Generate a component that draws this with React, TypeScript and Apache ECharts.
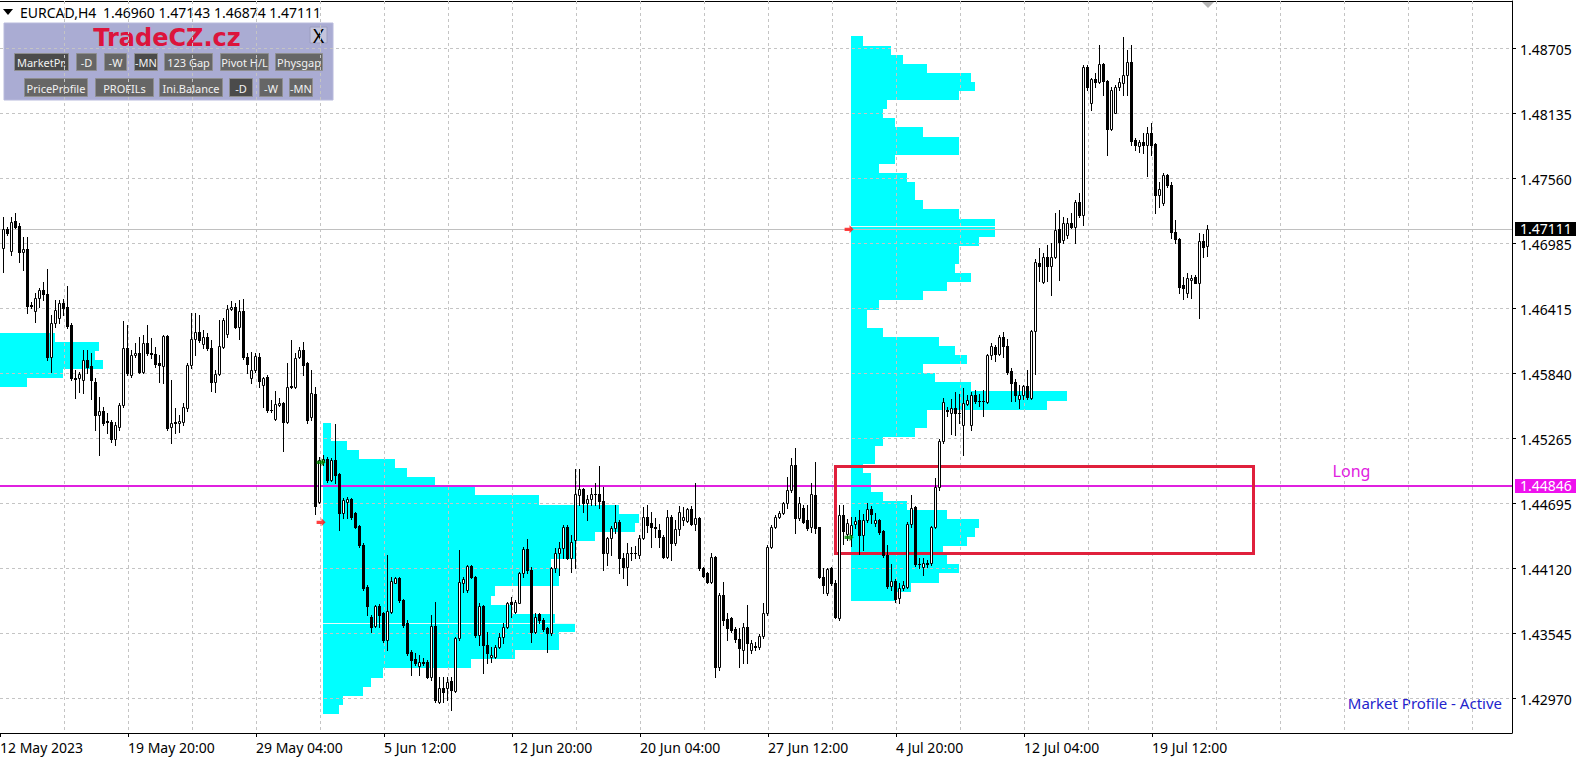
import React, { useEffect, useRef } from "react";
import * as echarts from "echarts";

// ---------- axis texts ----------
const xLabelTexts = ["12 May 2023", "19 May 20:00", "29 May 04:00", "5 Jun 12:00", "12 Jun 20:00", "20 Jun 04:00", "27 Jun 12:00", "4 Jul 20:00", "12 Jul 04:00", "19 Jul 12:00"];
const barsPerLabel = 32;
const barsPerGrid = 16;
const slotCount = 379;

const priceTicks = [1.48705, 1.48135, 1.4756, 1.46985, 1.46415, 1.4584, 1.45265, 1.44695, 1.4412, 1.43545, 1.4297];
const priceTickLabels = ["1.48705", "1.48135", "1.47560", "1.46985", "1.46415", "1.45840", "1.45265", "1.44695", "1.44120", "1.43545", "1.42970"];

const lastPrice = 1.47111;
const lastPriceLabel = "1.47111";
const longPrice = 1.44846;
const longPriceLabel = "1.44846";
const longText = "Long";
const longTextBar = 337;

// ---------- H4 candles (EURCAD) ----------
const opens = [
  1.4694, 1.47107, 1.46919, 1.47181, 1.47137, 1.46904, 1.46934, 1.4644, 1.4639, 1.46498,
  1.46572, 1.46534, 1.45984, 1.46278, 1.46322, 1.46454, 1.46419, 1.46263, 1.45798, 1.45792,
  1.45778, 1.45954, 1.45901, 1.45763, 1.45469, 1.45504, 1.45413, 1.4541, 1.45254, 1.45366,
  1.45557, 1.46063, 1.45822, 1.45998, 1.46013, 1.45851, 1.46101, 1.46013, 1.46007, 1.45925,
  1.45904, 1.46166, 1.45366, 1.45395, 1.45395, 1.4541, 1.45528, 1.4591, 1.46137, 1.46201,
  1.46093, 1.4616, 1.46057, 1.45763, 1.45831, 1.46072, 1.46181, 1.46401, 1.46419, 1.46249,
  1.46387, 1.45978, 1.45796, 1.45866, 1.45984, 1.45734, 1.45808, 1.45514, 1.45432, 1.45558,
  1.45579, 1.45411, 1.45714, 1.4572, 1.45984, 1.46043, 1.45926, 1.45455, 1.45655, 1.44704,
  1.45058, 1.45078, 1.44896, 1.45072, 1.44949, 1.44601, 1.44704, 1.44725, 1.44607, 1.4449,
  1.44322, 1.43954, 1.4369, 1.43608, 1.43784, 1.43719, 1.43484, 1.43734, 1.4399, 1.44028,
  1.43837, 1.43631, 1.43381, 1.43313, 1.43257, 1.43287, 1.43287, 1.43155, 1.43608, 1.4294,
  1.43057, 1.43057, 1.43122, 1.43037, 1.43499, 1.4399, 1.43925, 1.44137, 1.44043, 1.43528,
  1.43784, 1.4344, 1.43331, 1.43337, 1.43426, 1.43514, 1.43602, 1.43823, 1.43734, 1.43814,
  1.44073, 1.44287, 1.44102, 1.43558, 1.43714, 1.43661, 1.43588, 1.43543, 1.44117, 1.44249,
  1.44293, 1.44478, 1.44211, 1.44367, 1.44764, 1.44814, 1.4469, 1.44725, 1.44773, 1.44773,
  1.44714, 1.44249, 1.44381, 1.4447, 1.44526, 1.44205, 1.44131, 1.44255, 1.4425, 1.44234,
  1.44381, 1.44567, 1.44514, 1.44478, 1.44455, 1.44396, 1.4422, 1.44573, 1.44337, 1.44461,
  1.44543, 1.44537, 1.44637, 1.44508, 1.44558, 1.44117, 1.44079, 1.43999, 1.44214, 1.43249,
  1.43881, 1.43667, 1.43676, 1.43578, 1.4349, 1.43396, 1.43602, 1.43396, 1.43432, 1.43427,
  1.4352, 1.43719, 1.44307, 1.44478, 1.44566, 1.44607, 1.4469, 1.44807, 1.45028, 1.44557,
  1.44646, 1.44543, 1.44478, 1.44763, 1.44478, 1.44043, 1.43896, 1.44116, 1.43984, 1.43675,
  1.44587, 1.44423, 1.44407, 1.44509, 1.44541, 1.44407, 1.44541, 1.44638, 1.44519, 1.44541,
  1.44445, 1.4423, 1.43958, 1.44006, 1.43852, 1.4394, 1.43955, 1.44507, 1.44654, 1.44159,
  1.44131, 1.44157, 1.4416, 1.44484, 1.4483, 1.45241, 1.45504, 1.45491, 1.4553, 1.45491,
  1.45385, 1.45568, 1.45385, 1.45642, 1.45594, 1.4559, 1.45587, 1.45995, 1.46069, 1.46011,
  1.46155, 1.46075, 1.45857, 1.45761, 1.4561, 1.45642, 1.45722, 1.45619, 1.46209, 1.46813,
  1.46646, 1.4686, 1.46787, 1.46866, 1.47107, 1.47013, 1.47057, 1.4716, 1.47131, 1.47351,
  1.47234, 1.48542, 1.48219, 1.48431, 1.4841, 1.48566, 1.48419, 1.4799, 1.48137, 1.4836,
  1.48401, 1.48469, 1.48587, 1.47895, 1.47842, 1.47875, 1.47851, 1.47954, 1.4786, 1.4741,
  1.47343, 1.47587, 1.47498, 1.47087, 1.47019, 1.46616, 1.46549, 1.4666, 1.46684, 1.46637,
  1.47004, 1.4696,
];
const highs = [
  1.47219, 1.47131, 1.47219, 1.47248, 1.4716, 1.47042, 1.47042, 1.46469, 1.46543, 1.46587,
  1.46645, 1.46757, 1.46351, 1.46484, 1.46484, 1.4649, 1.46607, 1.46278, 1.45866, 1.45851,
  1.46043, 1.46043, 1.46013, 1.45792, 1.45631, 1.45543, 1.45484, 1.45425, 1.4541, 1.45572,
  1.46298, 1.46263, 1.46043, 1.46107, 1.4616, 1.46175, 1.46263, 1.46145, 1.46072, 1.45998,
  1.46175, 1.46175, 1.45778, 1.45528, 1.45469, 1.45578, 1.45931, 1.46366, 1.46372, 1.46348,
  1.46219, 1.4619, 1.46131, 1.45866, 1.46307, 1.46322, 1.4644, 1.46478, 1.46454, 1.46484,
  1.4649, 1.46013, 1.46029, 1.46015, 1.46014, 1.45808, 1.45823, 1.45602, 1.45685, 1.45617,
  1.45587, 1.45926, 1.46132, 1.46014, 1.46073, 1.46117, 1.4594, 1.45867, 1.4572, 1.45101,
  1.45115, 1.45101, 1.45087, 1.45387, 1.44954, 1.44734, 1.44748, 1.44734, 1.44616, 1.44499,
  1.44337, 1.43969, 1.43705, 1.43793, 1.43801, 1.43734, 1.44234, 1.44043, 1.44043, 1.44043,
  1.43843, 1.4366, 1.43396, 1.43366, 1.43352, 1.43322, 1.43307, 1.43705, 1.43822, 1.4316,
  1.4316, 1.4316, 1.4316, 1.43513, 1.44278, 1.44043, 1.44146, 1.44146, 1.44049, 1.43808,
  1.43793, 1.43557, 1.43426, 1.4344, 1.43543, 1.43632, 1.43823, 1.43867, 1.43837, 1.44087,
  1.44308, 1.44373, 1.44131, 1.4372, 1.43726, 1.43676, 1.43602, 1.44131, 1.44293, 1.44352,
  1.44499, 1.44499, 1.44411, 1.4499, 1.4499, 1.44823, 1.44764, 1.44828, 1.44873, 1.4502,
  1.44837, 1.44396, 1.4449, 1.44676, 1.44543, 1.44249, 1.44337, 1.44308, 1.44314, 1.44411,
  1.44661, 1.44676, 1.44617, 1.44558, 1.44508, 1.44411, 1.44631, 1.44587, 1.44543, 1.44667,
  1.44661, 1.44646, 1.44667, 1.44867, 1.44573, 1.44131, 1.44087, 1.44249, 1.44226, 1.43896,
  1.43999, 1.4372, 1.4369, 1.43602, 1.43588, 1.43632, 1.43793, 1.43484, 1.4347, 1.4354,
  1.43813, 1.44322, 1.44499, 1.44587, 1.44625, 1.44704, 1.44925, 1.45087, 1.45175, 1.44749,
  1.44675, 1.44675, 1.44866, 1.45057, 1.44484, 1.44116, 1.44116, 1.44131, 1.44013, 1.44675,
  1.44679, 1.4455, 1.44567, 1.44574, 1.44631, 1.44599, 1.44696, 1.44663, 1.44606, 1.44551,
  1.44455, 1.44327, 1.44157, 1.44022, 1.43984, 1.44007, 1.44528, 1.44763, 1.44666, 1.44204,
  1.44204, 1.4419, 1.4449, 1.4491, 1.45257, 1.45619, 1.45536, 1.4561, 1.45674, 1.45658,
  1.45706, 1.45642, 1.45674, 1.4569, 1.45658, 1.4569, 1.46011, 1.46107, 1.46091, 1.46171,
  1.46203, 1.46139, 1.45882, 1.45786, 1.45738, 1.45738, 1.45866, 1.46219, 1.46845, 1.46941,
  1.46895, 1.46973, 1.46984, 1.47248, 1.47278, 1.47219, 1.47204, 1.47248, 1.47366, 1.47425,
  1.48557, 1.48557, 1.4844, 1.4849, 1.48734, 1.48572, 1.48425, 1.48366, 1.48381, 1.4844,
  1.48807, 1.4869, 1.48734, 1.4791, 1.47895, 1.47954, 1.48013, 1.48042, 1.47866, 1.47528,
  1.47601, 1.47595, 1.47528, 1.47189, 1.47028, 1.4669, 1.46719, 1.46704, 1.46704, 1.47072,
  1.47066, 1.47143,
];
const lows = [
  1.46734, 1.47057, 1.46881, 1.47116, 1.46822, 1.46748, 1.46372, 1.4641, 1.46293, 1.46425,
  1.46484, 1.45954, 1.45851, 1.46249, 1.46278, 1.46351, 1.46234, 1.45778, 1.45616, 1.45675,
  1.4566, 1.45837, 1.45607, 1.45337, 1.45116, 1.45381, 1.45307, 1.45234, 1.45204, 1.45337,
  1.45543, 1.45822, 1.45807, 1.45984, 1.45837, 1.45837, 1.45998, 1.45969, 1.45895, 1.45763,
  1.45748, 1.45337, 1.45225, 1.45307, 1.45316, 1.45381, 1.45507, 1.45881, 1.45998, 1.46116,
  1.46057, 1.46043, 1.45684, 1.45675, 1.45822, 1.46065, 1.4616, 1.46395, 1.46234, 1.46137,
  1.4596, 1.45837, 1.45749, 1.45845, 1.4572, 1.45543, 1.45499, 1.45499, 1.45426, 1.45549,
  1.45155, 1.45396, 1.45705, 1.45705, 1.4597, 1.45823, 1.45396, 1.45426, 1.446, 1.4469,
  1.4503, 1.44881, 1.4489, 1.44866, 1.44454, 1.44557, 1.44557, 1.44549, 1.44469, 1.44307,
  1.43925, 1.43705, 1.43557, 1.43596, 1.43602, 1.43469, 1.43396, 1.43719, 1.43984, 1.43822,
  1.43602, 1.43352, 1.43175, 1.43263, 1.43175, 1.43263, 1.43146, 1.43131, 1.4294, 1.42925,
  1.4294, 1.42954, 1.42866, 1.43028, 1.43484, 1.4391, 1.4391, 1.44028, 1.43513, 1.4344,
  1.4319, 1.43278, 1.43293, 1.43323, 1.43411, 1.43455, 1.43588, 1.4369, 1.4372, 1.43808,
  1.44043, 1.44073, 1.4347, 1.43543, 1.43637, 1.43567, 1.43382, 1.43529, 1.44087, 1.44058,
  1.44205, 1.44196, 1.44087, 1.44117, 1.44676, 1.44617, 1.44543, 1.44676, 1.44676, 1.44646,
  1.44102, 1.44146, 1.44234, 1.44426, 1.44073, 1.44029, 1.4397, 1.4419, 1.44205, 1.44205,
  1.44373, 1.4444, 1.44308, 1.44396, 1.44308, 1.44205, 1.44205, 1.4419, 1.44323, 1.44411,
  1.44499, 1.44528, 1.44499, 1.44455, 1.44102, 1.44037, 1.43984, 1.43984, 1.43161, 1.4322,
  1.43617, 1.43484, 1.43558, 1.4347, 1.43249, 1.43279, 1.43279, 1.43367, 1.43396, 1.43405,
  1.435, 1.43705, 1.44293, 1.44469, 1.44557, 1.44596, 1.44646, 1.44793, 1.44425, 1.44543,
  1.44513, 1.44454, 1.4444, 1.44425, 1.44028, 1.43896, 1.43881, 1.43969, 1.43675, 1.4366,
  1.4433, 1.4437, 1.44311, 1.44471, 1.44246, 1.44279, 1.44529, 1.44519, 1.44487, 1.44423,
  1.44214, 1.43942, 1.43926, 1.43822, 1.43807, 1.43925, 1.4394, 1.44484, 1.44137, 1.44116,
  1.44057, 1.44131, 1.44146, 1.44469, 1.44808, 1.45225, 1.45459, 1.45305, 1.45289, 1.45401,
  1.45113, 1.45562, 1.45337, 1.45578, 1.45546, 1.45465, 1.45578, 1.45963, 1.45947, 1.45995,
  1.45979, 1.45834, 1.45594, 1.45594, 1.4553, 1.4561, 1.4561, 1.4561, 1.45834, 1.46652,
  1.46631, 1.46652, 1.46528, 1.46851, 1.4666, 1.46984, 1.47028, 1.47116, 1.46984, 1.47219,
  1.47145, 1.48337, 1.4816, 1.48366, 1.48395, 1.48293, 1.47763, 1.47984, 1.48131, 1.48337,
  1.48293, 1.48293, 1.47851, 1.47807, 1.47793, 1.47778, 1.47578, 1.47763, 1.47248, 1.47307,
  1.47322, 1.47484, 1.47028, 1.46984, 1.46543, 1.4649, 1.46513, 1.46498, 1.46631, 1.46322,
  1.46866, 1.46874,
];
const closes = [
  1.47107, 1.47078, 1.47175, 1.47131, 1.46904, 1.46934, 1.46431, 1.46431, 1.46498, 1.46572,
  1.46534, 1.45984, 1.46278, 1.46395, 1.46454, 1.4641, 1.46254, 1.45792, 1.45784, 1.45831,
  1.45954, 1.45895, 1.45778, 1.45469, 1.45504, 1.45401, 1.45404, 1.45254, 1.45381, 1.45557,
  1.46063, 1.45837, 1.45998, 1.46013, 1.45851, 1.46101, 1.46013, 1.46008, 1.45916, 1.4591,
  1.46166, 1.45351, 1.45395, 1.4541, 1.45416, 1.45537, 1.4591, 1.46137, 1.46201, 1.46131,
  1.4616, 1.46057, 1.45763, 1.45831, 1.46078, 1.46307, 1.46404, 1.46425, 1.46249, 1.46387,
  1.45978, 1.45919, 1.45866, 1.4599, 1.4577, 1.45793, 1.45514, 1.4551, 1.45564, 1.45579,
  1.45411, 1.45714, 1.45726, 1.4597, 1.46043, 1.45911, 1.45426, 1.45661, 1.4467, 1.45072,
  1.45079, 1.44896, 1.45072, 1.4494, 1.44601, 1.44719, 1.44725, 1.44572, 1.44484, 1.44322,
  1.4394, 1.43784, 1.43602, 1.43784, 1.43705, 1.43484, 1.4374, 1.44007, 1.44028, 1.43837,
  1.43616, 1.43366, 1.43307, 1.43284, 1.43287, 1.43281, 1.43155, 1.43608, 1.42954, 1.43057,
  1.43028, 1.43116, 1.43043, 1.43499, 1.43999, 1.44019, 1.44137, 1.44037, 1.43528, 1.43784,
  1.4344, 1.43372, 1.43352, 1.43426, 1.43514, 1.43602, 1.43808, 1.43802, 1.43823, 1.44073,
  1.44287, 1.44102, 1.43558, 1.4369, 1.43661, 1.43578, 1.43543, 1.44117, 1.44249, 1.44293,
  1.44484, 1.44211, 1.44352, 1.44773, 1.44814, 1.4469, 1.44725, 1.44773, 1.44769, 1.44714,
  1.44249, 1.44381, 1.4447, 1.44526, 1.44205, 1.44131, 1.44249, 1.4425, 1.44256, 1.44381,
  1.44567, 1.44499, 1.44478, 1.44475, 1.4439, 1.4422, 1.44567, 1.44337, 1.44461, 1.44617,
  1.44573, 1.44637, 1.44508, 1.44558, 1.44117, 1.44049, 1.43999, 1.44214, 1.43249, 1.43881,
  1.43661, 1.43588, 1.43573, 1.4349, 1.43411, 1.43602, 1.43461, 1.43455, 1.43427, 1.4352,
  1.43725, 1.44307, 1.44478, 1.44572, 1.44607, 1.4469, 1.44807, 1.45028, 1.44557, 1.4469,
  1.44528, 1.44469, 1.44772, 1.44469, 1.44037, 1.43969, 1.44107, 1.43984, 1.4369, 1.44587,
  1.4445, 1.44519, 1.44503, 1.44535, 1.44407, 1.44541, 1.44638, 1.44599, 1.44541, 1.44439,
  1.4423, 1.43958, 1.44006, 1.43846, 1.4394, 1.43969, 1.44507, 1.44646, 1.44154, 1.44154,
  1.4416, 1.4416, 1.44484, 1.44837, 1.45241, 1.45587, 1.4551, 1.4553, 1.45491, 1.45488,
  1.45578, 1.456, 1.45642, 1.45594, 1.4559, 1.45594, 1.45995, 1.46075, 1.46004, 1.46155,
  1.46075, 1.4585, 1.45754, 1.45642, 1.45642, 1.45722, 1.45626, 1.46209, 1.46819, 1.46787,
  1.4686, 1.46787, 1.4686, 1.47101, 1.46998, 1.4716, 1.4716, 1.47131, 1.47351, 1.47234,
  1.48542, 1.4836, 1.48431, 1.4841, 1.48566, 1.48419, 1.4799, 1.48337, 1.4836, 1.4841,
  1.48469, 1.48587, 1.4789, 1.47851, 1.47875, 1.47851, 1.47954, 1.47851, 1.4741, 1.4746,
  1.47587, 1.47498, 1.47087, 1.47019, 1.46601, 1.46587, 1.46675, 1.46675, 1.46637, 1.47004,
  1.46954, 1.47111,
];

// ---------- market profiles (bar where each starts, top price, TPO counts per price bucket) ----------
const profileStep = 0.000803;
const profile1Start = -1;
const profile1Top = 1.46196;
const profile1Widths = [14, 25, 24, 26, 16, 7];
const profile2Start = 80;
const profile2Top = 1.45402;
const profile2Widths = [2, 2, 6, 9, 18, 21, 28, 38, 54, 74, 79, 78, 68, 63, 63, 57, 59, 59, 43, 42, 47, 58, 63, 59, 59, 48, 37, 15, 12, 10, 5, 4];
const profile3Start = 212;
const profile3Top = 1.48809;
const profile3Widths = [3, 10, 13, 19, 30, 31, 27, 9, 8, 11, 18, 27, 27, 11, 7, 14, 16, 16, 18, 27, 36, 36, 32, 27, 27, 26, 30, 24, 18, 7, 4, 4, 8, 22, 26, 29, 18, 21, 30, 54, 49, 19, 19, 16, 8, 6, 6, 3, 5, 5, 8, 14, 24, 32, 31, 29, 23, 24, 27, 22, 15, 11];
const pocStarts = [80, 212];
const pocPrices = [1.43632, 1.47133];
const pocWidths = [63, 36];

// ---------- drawn objects ----------
const boxLeftBar = 207.8;
const boxRightBar = 312.4;
const boxTopPrice = 1.45022;
const boxBottomPrice = 1.44252;
const redArrowBars = [79.4, 211.4];
const redArrowPrices = [1.44523, 1.47108];
const greenArrowBars = [79.4, 211.4];
const greenArrowPrices = [1.45052, 1.4439];

const headerSymbol = "EURCAD,H4";
const headerPrices = "1.46960 1.47143 1.46874 1.47111";
const statusText = "Market Profile - Active";

const rowButtons1 = ["MarketPr.", "-D", "-W", "-MN", "123 Gap", "Pivot H/L", "Physgap"];
const rowButtons2 = ["PriceProfile", "PROFILs", "Ini.Balance", "-D", "-W", "-MN"];

const FONT = '"Noto Sans", "DejaVu Sans", sans-serif';

function buildOption(): any {
  const categories = Array.from({ length: slotCount }, (_, k) =>
    k % barsPerLabel === 0 && k / barsPerLabel < xLabelTexts.length ? xLabelTexts[k / barsPerLabel] : ""
  );
  const candleData = opens.map((o, i) => [i, o, highs[i], lows[i], closes[i]]);
  const profileRows: number[][] = [];
  const profs: [number, number, number[]][] = [
    [profile1Start, profile1Top, profile1Widths],
    [profile2Start, profile2Top, profile2Widths],
    [profile3Start, profile3Top, profile3Widths],
  ];
  profs.forEach(([s, top, ws]) =>
    ws.forEach((w, k) => profileRows.push([s, top - k * profileStep, top - (k + 1) * profileStep, w]))
  );
  const pocData = pocStarts.map((s, i) => [s, pocPrices[i], pocWidths[i]]);

  // panel graphics
  const g: any[] = [];
  g.push({ type: "polygon", shape: { points: [[3, 9], [13, 9], [8, 15]] }, style: { fill: "#000" } });
  g.push({ type: "text", x: 20, y: 12, style: { text: headerSymbol, fill: "#000", font: `14px ${FONT}`, verticalAlign: "middle" } });
  g.push({ type: "text", x: 103, y: 12, style: { text: headerPrices, fill: "#000", font: `14px ${FONT}`, verticalAlign: "middle" } });
  g.push({ type: "rect", shape: { x: 4, y: 23, width: 329, height: 77 }, style: { fill: "#aaacd3", stroke: "#b8badc", lineWidth: 1 } });
  g.push({ type: "text", x: 167, y: 38, style: { text: "TradeCZ.cz", fill: "#dc143c", font: `bold 24px "DejaVu Sans", sans-serif`, align: "center", verticalAlign: "middle" } });
  g.push({ type: "rect", shape: { x: 310, y: 27, width: 17, height: 16 }, style: { fill: "#c3c4dc", stroke: "#9c9ec0", lineWidth: 1 } });
  g.push({ type: "text", x: 318.5, y: 35.5, style: { text: "X", fill: "#000", font: `19px ${FONT}`, align: "center", verticalAlign: "middle" } });
  const b1x = [14, 76, 104, 134, 164, 220, 275];
  const b1w = [55, 21, 23, 24, 49, 49, 48];
  const b1dark = [true, false, false, true, false, false, false];
  const b2x = [24, 95, 159, 229, 259, 289];
  const b2w = [64, 59, 64, 24, 24, 24];
  const b2dark = [false, false, false, true, false, false];
  const addBtn = (t: string, x: number, y: number, w: number, h: number, dark: boolean) => {
    g.push({ type: "rect", shape: { x: x + 0.5, y: y + 0.5, width: w - 1, height: h - 1 }, style: { fill: dark ? "#4b4b4b" : "#666666", stroke: "#8e8e8e", lineWidth: 1 } });
    g.push({ type: "text", x: x + w / 2, y: y + h / 2 + 0.5, style: { text: t, fill: "#f2f2f2", font: `11px ${FONT}`, align: "center", verticalAlign: "middle" } });
  };
  rowButtons1.forEach((t, i) => addBtn(t, b1x[i], 53, b1w[i], 18, b1dark[i]));
  rowButtons2.forEach((t, i) => addBtn(t, b2x[i], 78, b2w[i], 19, b2dark[i]));
  g.push({ type: "text", x: 1502, y: 703, style: { text: statusText, fill: "#2323cc", font: `15px ${FONT}`, align: "right", verticalAlign: "middle" } });
  g.push({ type: "polygon", shape: { points: [[1201, 1], [1215, 1], [1208, 8]] }, style: { fill: "#b4b4b4" } });

  return {
    animation: false,
    backgroundColor: "#ffffff",
    grid: { left: 0, top: 1, width: 1512, height: 732, containLabel: false, outerBoundsMode: "none" },
    xAxis: [
      {
        type: "category",
        data: categories,
        boundaryGap: false,
        z: 3,
        axisLine: { show: true, lineStyle: { color: "#000", width: 1 } },
        axisTick: { show: true, interval: (idx: number, v: string) => v !== "", length: 4, lineStyle: { color: "#000" } },
        axisLabel: {
          show: true,
          interval: (idx: number, v: string) => v !== "",
          align: "left",
          margin: 7,
          color: "#000",
          fontFamily: FONT,
          fontSize: 14,
          lineHeight: 14,
          formatter: (v: string) => v,
        },
        splitLine: {
          show: true,
          interval: (idx: number) => idx > 0 && idx % barsPerGrid === 0,
          lineStyle: { color: "#c4c4c4", type: [3, 3], width: 1 },
        },
      },
      {
        type: "value",
        position: "top",
        min: -0.875,
        max: 377.125,
        axisLine: { show: true, onZero: false, lineStyle: { color: "#000" } },
        axisTick: { show: false },
        axisLabel: { show: false },
        splitLine: { show: false },
      },
    ],
    yAxis: [
      {
        type: "value",
        position: "right",
        min: 1.42664,
        max: 1.49122,
        axisLine: { show: true, onZero: false, lineStyle: { color: "#000" } },
        axisTick: { show: false },
        axisLabel: { show: false },
        splitLine: { show: false },
      },
    ],
    graphic: { elements: g },
    series: [
      {
        name: "profiles",
        type: "custom",
        xAxisIndex: 1,
        yAxisIndex: 0,
        z: 1,
        clip: true,
        silent: true,
        data: profileRows,
        renderItem: (params: any, api: any) => {
          const s = api.value(0), pt = api.value(1), pb = api.value(2), w = api.value(3);
          const a = api.coord([s, pt]);
          const b = api.coord([s + w, pb]);
          const x0 = Math.floor(a[0]), x1 = Math.floor(b[0]);
          const y0 = Math.round(a[1]), y1 = Math.round(b[1]);
          return { type: "rect", shape: { x: x0, y: y0, width: x1 - x0, height: y1 - y0 }, style: { fill: "#00ffff" } };
        },
      },
      {
        name: "poc",
        type: "custom",
        xAxisIndex: 1,
        yAxisIndex: 0,
        z: 2,
        silent: true,
        data: pocData,
        renderItem: (params: any, api: any) => {
          const s = api.value(0), p = api.value(1), w = api.value(2);
          const a = api.coord([s, p]);
          const b = api.coord([s + w, p]);
          const y = Math.round(a[1]) + 0.5;
          return { type: "line", shape: { x1: Math.floor(a[0]), y1: y, x2: Math.floor(b[0]), y2: y }, style: { stroke: "#e6fbfb", lineWidth: 1 } };
        },
      },
      {
        name: "priceGrid",
        type: "custom",
        xAxisIndex: 1,
        yAxisIndex: 0,
        z: 3,
        silent: true,
        data: priceTicks.map((p) => [0, p]),
        renderItem: (params: any, api: any) => {
          const cs = params.coordSys;
          const y = Math.round(api.coord([0, api.value(1)])[1]) + 0.5;
          const right = cs.x + cs.width;
          return {
            type: "group",
            children: [
              { type: "line", shape: { x1: cs.x, y1: y, x2: right, y2: y }, style: { stroke: "#c4c4c4", lineWidth: 1, lineDash: [3, 3] } },
              { type: "line", shape: { x1: right, y1: y, x2: right + 4, y2: y }, style: { stroke: "#000", lineWidth: 1 } },
              { type: "text", x: right + 8, y: y + 1, style: { text: priceTickLabels[params.dataIndex], fill: "#000", font: `14px ${FONT}`, lineHeight: 13, align: "left", verticalAlign: "middle" } },
            ],
          };
        },
      },
      {
        name: "levels",
        type: "custom",
        xAxisIndex: 1,
        yAxisIndex: 0,
        z: 4,
        silent: true,
        data: [[0, lastPrice], [1, longPrice]],
        renderItem: (params: any, api: any) => {
          const cs = params.coordSys;
          const right = cs.x + cs.width;
          const isLong = params.dataIndex === 1;
          const yRaw = api.coord([0, api.value(1)])[1];
          const y = isLong ? Math.round(yRaw) : Math.round(yRaw) + 0.5;
          const children: any[] = [
            { type: "line", shape: { x1: cs.x, y1: y, x2: right, y2: y }, style: { stroke: isLong ? "#e020e0" : "#c0c0c0", lineWidth: isLong ? 2 : 1 } },
            { type: "rect", shape: { x: right + 3, y: Math.round(yRaw) - 7, width: 61, height: 14 }, style: { fill: isLong ? "#ee11ee" : "#000000" } },
            { type: "text", x: right + 8, y: Math.round(yRaw) - 0.5, style: { text: isLong ? longPriceLabel : lastPriceLabel, fill: "#ffffff", font: `14px ${FONT}`, lineHeight: 13, align: "left", verticalAlign: "middle" } },
          ];
          if (isLong) {
            const tx = api.coord([longTextBar, longPrice])[0];
            children.push({ type: "text", x: tx, y: Math.round(yRaw) - 15, style: { text: longText, fill: "#e020e0", font: `16px ${FONT}`, align: "center", verticalAlign: "middle" } });
          }
          return { type: "group", children };
        },
      },
      {
        name: "box",
        type: "custom",
        xAxisIndex: 1,
        yAxisIndex: 0,
        z: 4,
        silent: true,
        data: [[boxLeftBar, boxTopPrice, boxRightBar, boxBottomPrice]],
        renderItem: (params: any, api: any) => {
          const a = api.coord([api.value(0), api.value(1)]);
          const b = api.coord([api.value(2), api.value(3)]);
          return { type: "rect", shape: { x: Math.round(a[0]) + 0.5, y: Math.round(a[1]) + 0.5, width: Math.round(b[0] - a[0]), height: Math.round(b[1] - a[1]) }, style: { fill: "none", stroke: "#e0203c", lineWidth: 3 } };
        },
      },
      {
        name: "EURCAD,H4",
        type: "custom",
        xAxisIndex: 1,
        yAxisIndex: 0,
        z: 5,
        silent: true,
        data: candleData,
        renderItem: (params: any, api: any) => {
          const i = api.value(0);
          const o = api.value(1), h = api.value(2), l = api.value(3), c = api.value(4);
          const pO = api.coord([i, o]);
          const cx = Math.floor(pO[0]) + 0.5;
          const yO = Math.round(pO[1]);
          const yC = Math.round(api.coord([i, c])[1]);
          const yH = Math.round(api.coord([i, h])[1]);
          const yL = Math.round(api.coord([i, l])[1]) + 1;
          const top = Math.min(yO, yC);
          const bot = Math.max(yO, yC) + 1;
          const children: any[] = [
            { type: "line", shape: { x1: cx, y1: Math.min(yH, top), x2: cx, y2: Math.max(yL, bot) }, style: { stroke: "#000", lineWidth: 1 } },
          ];
          if (c >= o) {
            if (bot - top <= 2) {
              children.push({ type: "rect", shape: { x: cx - 1.5, y: top, width: 3, height: bot - top }, style: { fill: "#000" } });
            } else {
              children.push({ type: "rect", shape: { x: cx - 1, y: top + 0.5, width: 2, height: bot - top - 1 }, style: { fill: "#fff", stroke: "#000", lineWidth: 1 } });
            }
          } else {
            children.push({ type: "rect", shape: { x: cx - 1.5, y: top, width: 3, height: bot - top }, style: { fill: "#000" } });
          }
          return { type: "group", children };
        },
      },
      {
        name: "sell arrows",
        type: "scatter",
        xAxisIndex: 1,
        yAxisIndex: 0,
        z: 6,
        silent: true,
        symbol: "path://M0,3L6,3L6,0L11,5L6,10L6,7L0,7Z",
        symbolSize: [9, 8],
        itemStyle: { color: "#ff1010" },
        data: redArrowBars.map((b, i) => [b, redArrowPrices[i]]),
      },
      {
        name: "buy arrows",
        type: "scatter",
        xAxisIndex: 1,
        yAxisIndex: 0,
        z: 6,
        silent: true,
        symbol: "path://M0,3L6,3L6,0L11,5L6,10L6,7L0,7Z",
        symbolSize: [9, 8],
        itemStyle: { color: "#008a00" },
        data: greenArrowBars.map((b, i) => [b, greenArrowPrices[i]]),
      },
    ],
  };
}

export default function App() {
  const ref = useRef<HTMLDivElement>(null);
  useEffect(() => {
    if (!ref.current) return;
    const chart = echarts.init(ref.current, null, { renderer: "svg" });
    chart.setOption(buildOption());
    return () => chart.dispose();
  }, []);
  return (
    <div
      ref={ref}
      style={{ position: "fixed", left: 0, top: 0, width: 1584, height: 763, background: "#ffffff" }}
    />
  );
}
